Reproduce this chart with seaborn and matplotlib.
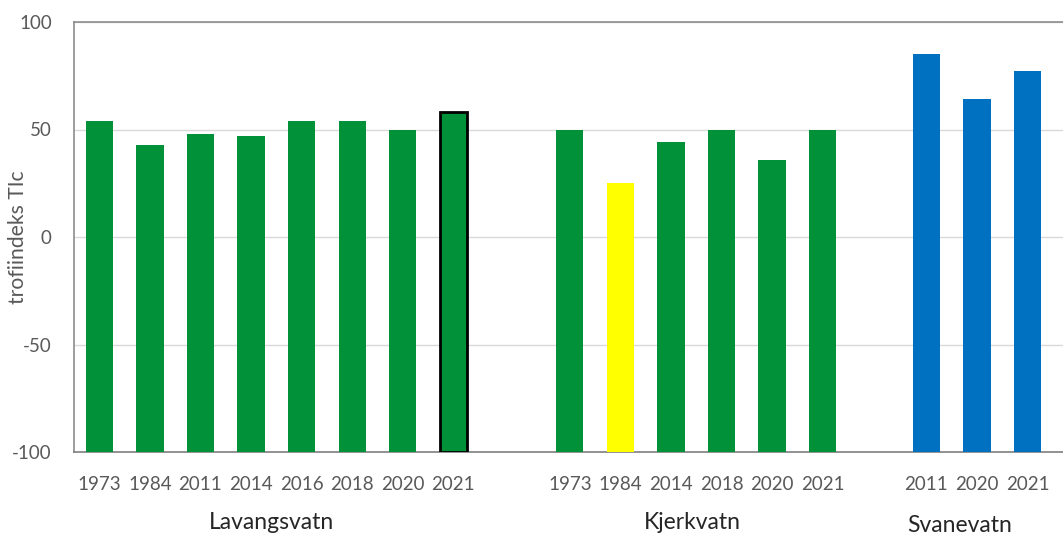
import matplotlib
matplotlib.use("Agg")
import matplotlib.pyplot as plt
import matplotlib.transforms as mtransforms
import pandas as pd
import seaborn as sns

# Trophic index (TIc) per lake and sampling year
lakes = ["Lavangsvatn", "Kjerkvatn", "Svanevatn"]
lav_years = ["1973", "1984", "2011", "2014", "2016", "2018", "2020", "2021"]
lav_tic = [54, 43, 48, 47, 54, 54, 50, 58]
kje_years = ["1973", "1984", "2014", "2018", "2020", "2021"]
kje_tic = [50, 25, 44, 50, 36, 50]
sva_years = ["2011", "2020", "2021"]
sva_tic = [85, 64, 77]

# Colour class of each bar
lav_class = ["green"] * 8
kje_class = ["green", "yellow", "green", "green", "green", "green"]
sva_class = ["blue"] * 3

palette = {"green": "#009139", "yellow": "#FFFF00", "blue": "#0070C0"}
y_floor = -100
group_start = [0.0, 9.3, 16.35]

rows = []
for lake, start, years, vals, cls in zip(
        lakes, group_start,
        [lav_years, kje_years, sva_years],
        [lav_tic, kje_tic, sva_tic],
        [lav_class, kje_class, sva_class]):
    for i, (yr, v, c) in enumerate(zip(years, vals, cls)):
        rows.append({"lake": lake, "year": yr, "tic": v, "cls": c, "pos": start + i})
df = pd.DataFrame(rows)

sns.set_theme(style="white")
plt.rcParams["font.family"] = ["Lato", "DejaVu Sans"]
plt.rcParams["axes.unicode_minus"] = False

fig = plt.figure(figsize=(10.63, 5.35), dpi=100)
ax = fig.add_axes([74 / 1063, 83 / 535, 1 - 74 / 1063, 430 / 535])

sns.barplot(data=df, x="pos", y="tic", hue="cls", palette=palette,
            native_scale=True, dodge=False, width=0.54, legend=False,
            saturation=1, ax=ax, zorder=3)

# Bars rise from the bottom of the value axis
for p in ax.patches:
    h = p.get_height()
    p.set_y(y_floor)
    p.set_height(h - y_floor)
    p.set_linewidth(0)

# Outline on the most recent Lavangsvatn sample
last_bar = sorted(ax.patches, key=lambda p: p.get_x())[len(lav_years) - 1]
last_bar.set_edgecolor("black")
last_bar.set_linewidth(2)

ax.set_ylim(-100, 100)
ax.set_xlim(-0.5, 19.05)
ax.set_yticks([-100, -50, 0, 50, 100])
ax.set_xticks(df["pos"])
ax.set_xticklabels(df["year"])
ax.tick_params(axis="both", length=0, labelsize=13.5, labelcolor="#595959")
ax.tick_params(axis="y", pad=16)
ax.tick_params(axis="x", pad=17)
ax.grid(axis="y", color="#d9d9d9", linewidth=1, zorder=0)
ax.set_axisbelow(True)

for side in ["top", "left"]:
    ax.spines[side].set_color("#8c8c8c")
    ax.spines[side].set_linewidth(1.2)
ax.spines["right"].set_visible(False)
ax.spines["bottom"].set_color("#7f7f7f")
ax.spines["bottom"].set_linewidth(1.2)

ax.set_xlabel("")
ax.set_ylabel("trofiindeks TIc", fontsize=15.2, color="#595959")
ax.yaxis.set_label_coords(-0.047, 0.5)

# Lake names under each group of years
trans = mtransforms.blended_transform_factory(ax.transData, ax.transAxes)
label_shift = [-0.1, -0.08, -0.35]
label_y = [-0.165, -0.165, -0.172]
for lake, shift, ly in zip(lakes, label_shift, label_y):
    sub = df[df["lake"] == lake]
    cx = (sub["pos"].min() + sub["pos"].max()) / 2 + shift
    ax.text(cx, ly, lake, transform=trans, ha="center", va="center",
            fontsize=16.5, color="#262626")

fig.savefig("out.png", dpi=100)
